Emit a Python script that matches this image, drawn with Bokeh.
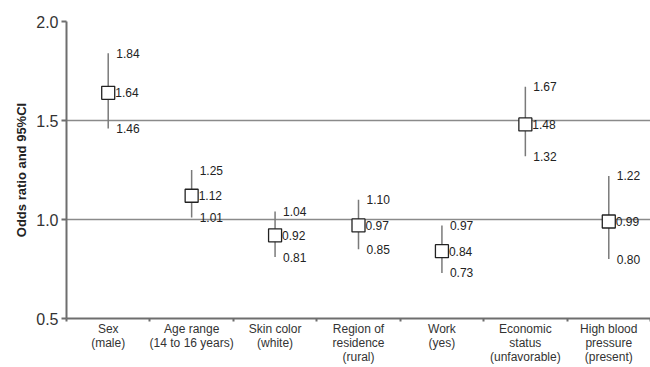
from bokeh.plotting import figure
from bokeh.models import FixedTicker, ColumnDataSource, Range1d, PrintfTickFormatter
from bokeh.core.properties import value
from bokeh.embed import file_html
from bokeh.resources import INLINE

categories = ["Sex\n(male)", "Age range\n(14 to 16 years)", "Skin color\n(white)",
              "Region of\nresidence\n(rural)", "Work\n(yes)", "Economic\nstatus\n(unfavorable)",
              "High blood\npressure\n(present)"]
odds = [1.64, 1.12, 0.92, 0.97, 0.84, 1.48, 0.99]
lower = [1.46, 1.01, 0.81, 0.85, 0.73, 1.32, 0.80]
upper = [1.84, 1.25, 1.04, 1.10, 0.97, 1.67, 1.22]
y_ticks = [0.5, 1.0, 1.5, 2.0]

xs = [i + 0.5 for i in range(len(categories))]
src = ColumnDataSource(dict(
    x=xs, odds=odds, lower=lower, upper=upper,
    odds_t=[f"{v:.2f}" for v in odds],
    lower_t=[f"{v:.2f}" for v in lower],
    upper_t=[f"{v:.2f}" for v in upper],
))

FONT = "Liberation Sans"
p = figure(width=650, height=367, output_backend="svg", toolbar_location=None,
           x_range=Range1d(0, len(categories)), y_range=Range1d(y_ticks[0], y_ticks[-1]),
           min_border_left=66, min_border_top=21, min_border_bottom=49, min_border_right=0)
p.outline_line_color = None
p.xgrid.visible = False
p.ygrid.ticker = FixedTicker(ticks=y_ticks)
p.ygrid.grid_line_color = "#8a8a8a"
p.ygrid.grid_line_width = 1.5

# y axis
p.yaxis.ticker = FixedTicker(ticks=y_ticks)
p.yaxis.formatter = PrintfTickFormatter(format="%.1f")
p.yaxis.axis_line_color = "#6e6e6e"
p.yaxis.axis_line_width = 2
p.yaxis.major_tick_line_color = "#6e6e6e"
p.yaxis.major_tick_line_width = 2
p.yaxis.major_tick_out = 5
p.yaxis.major_tick_in = 0
p.yaxis.minor_tick_line_color = None
p.yaxis.major_label_text_font = FONT
p.yaxis.major_label_text_font_size = "16px"
p.yaxis.major_label_text_color = "#333333"
p.yaxis.major_label_standoff = 3
p.yaxis.axis_label = "Odds ratio and 95%CI"
p.yaxis.axis_label_text_font = FONT
p.yaxis.axis_label_text_font_size = "13px"
p.yaxis.axis_label_text_font_style = "bold"
p.yaxis.axis_label_text_color = "#222222"
p.yaxis.axis_label_standoff = 4

# x axis: labels at category centres, ticks at category boundaries
p.xaxis.ticker = FixedTicker(ticks=xs, minor_ticks=list(range(len(categories) + 1)))
p.xaxis.major_label_overrides = {x: c for x, c in zip(xs, categories)}
p.xaxis.axis_line_color = "#6e6e6e"
p.xaxis.axis_line_width = 2
p.xaxis.major_tick_line_color = None
p.xaxis.major_tick_out = 0
p.xaxis.major_tick_in = 0
p.xaxis.minor_tick_line_color = "#6e6e6e"
p.xaxis.minor_tick_line_width = 2
p.xaxis.minor_tick_out = 3
p.xaxis.minor_tick_in = 0
p.xaxis.major_label_text_font = FONT
p.xaxis.major_label_text_font_size = "12px"
p.xaxis.major_label_text_color = "#333333"
p.xaxis.major_label_text_line_height = 1.0
p.xaxis.major_label_standoff = 0

# error bars
p.segment(x0="x", y0="lower", x1="x", y1="upper", source=src,
          line_color="#7a7a7a", line_width=1.5)
# points
p.scatter(x="x", y="odds", source=src, marker="square", size=13,
          fill_color="white", line_color="#222222", line_width=1.3)

common = dict(text_font=value(FONT), text_font_size="12px", text_color="#222222",
              text_baseline="middle", text_align="left")
p.text(x="x", y="upper", text="upper_t", source=src, x_offset=8, **common)
p.text(x="x", y="odds", text="odds_t", source=src, x_offset=7, **common)
p.text(x="x", y="lower", text="lower_t", source=src, x_offset=8, **common)

open("out.html", "w").write(file_html(p, INLINE))
